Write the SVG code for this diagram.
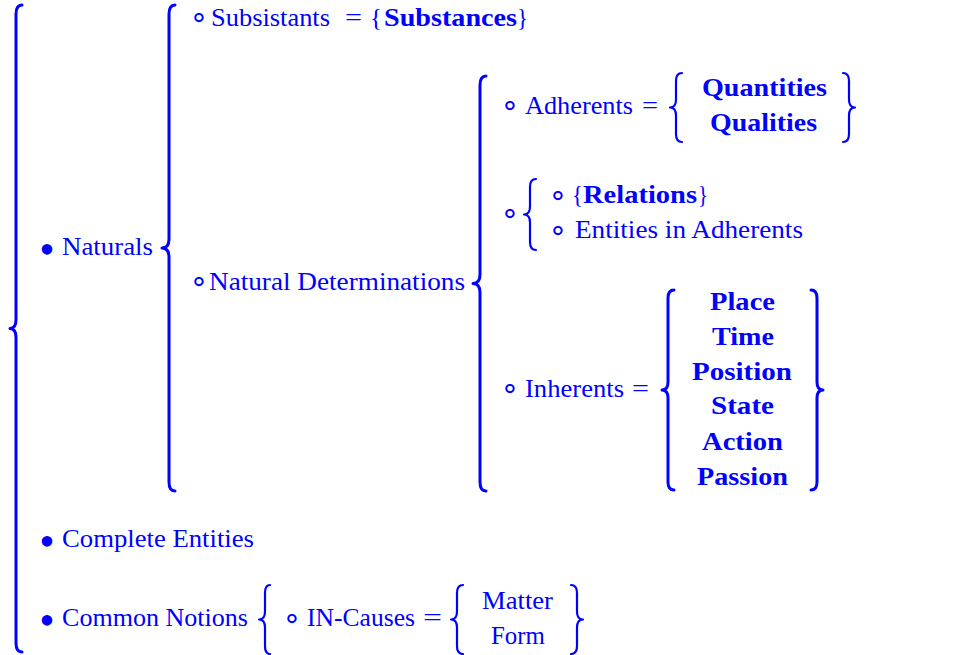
<svg xmlns="http://www.w3.org/2000/svg" width="960" height="655" viewBox="0 0 960 655">
<style>
.t{font-family:"Liberation Serif","Times New Roman",serif;font-size:24.5px;fill:#0000ff}
.b{font-weight:bold}
.bul{font-family:"Liberation Serif",serif;font-size:44px;fill:#0000ff;text-anchor:middle}
.ring{font-family:"DejaVu Sans",sans-serif;font-size:30px;fill:#0000ff;text-anchor:middle}
.br{fill:none;stroke:#0000ff;stroke-width:2.2;stroke-linecap:round;stroke-linejoin:round}
.big{stroke-width:3}
</style>
<rect width="960" height="655" fill="#ffffff"/>
<g id="connectors">
<path class="br big" d="M22,5 Q16,5 16,14 V319.5 Q16,328.5 10,328.5 Q16,328.5 16,337.5 V643 Q16,652 22,652"/>
<path class="br big" d="M175,5 Q169,5 169,14 V239 Q169,248 162,248 Q169,248 169,257 V482 Q169,491 175,491"/>
<path class="br big" d="M486,76 Q480,76 480,85 V274.5 Q480,283.5 473,283.5 Q480,283.5 480,292.5 V482 Q480,491 486,491"/>
<path class="br" d="M682,73 Q676,73 676,81 V99.5 Q676,107.5 670,107.5 Q676,107.5 676,115.5 V134 Q676,142 682,142"/>
<path class="br" d="M843,73 Q849,73 849,81 V99.5 Q849,107.5 855,107.5 Q849,107.5 849,115.5 V134 Q849,142 843,142"/>
<path class="br" d="M536,179 Q530,179 530,187 V206.5 Q530,214.5 524,214.5 Q530,214.5 530,222.5 V242 Q530,250 536,250"/>
<path class="br big" d="M674,290 Q668,290 668,298 V382 Q668,390 662,390 Q668,390 668,398 V482 Q668,490 674,490"/>
<path class="br big" d="M811,290 Q817,290 817,298 V382 Q817,390 823,390 Q817,390 817,398 V482 Q817,490 811,490"/>
<path class="br" d="M270,585 Q265,585 265,593 V611.5 Q265,619.5 259,619.5 Q265,619.5 265,627.5 V646 Q265,654 270,654"/>
<path class="br" d="M463,585 Q457,585 457,593 V611.5 Q457,619.5 451,619.5 Q457,619.5 457,627.5 V646 Q457,654 463,654"/>
<path class="br" d="M571,585 Q577,585 577,593 V611.5 Q577,619.5 583,619.5 Q577,619.5 577,627.5 V646 Q577,654 571,654"/>
</g>
<g id="naturals">
<text class="bul" x="47" y="264">•</text>
<text class="t" x="62" y="255" textLength="91" lengthAdjust="spacingAndGlyphs">Naturals</text>
</g>
<g id="subsistants">
<text class="ring" x="199" y="27">∘</text>
<text class="t" x="211" y="26" textLength="119" lengthAdjust="spacingAndGlyphs">Subsistants</text>
<text class="t" x="345" y="26" textLength="17" lengthAdjust="spacingAndGlyphs">=</text>
<text class="t" x="370" y="26" textLength="12" lengthAdjust="spacingAndGlyphs">{</text>
<text class="t b" x="384" y="26" textLength="133" lengthAdjust="spacingAndGlyphs">Substances</text>
<text class="t" x="517" y="26" textLength="11" lengthAdjust="spacingAndGlyphs">}</text>
</g>
<g id="natural-determinations">
<text class="ring" x="199" y="291">∘</text>
<text class="t" x="209" y="290" textLength="256" lengthAdjust="spacingAndGlyphs">Natural Determinations</text>
</g>
<g id="adherents">
<text class="ring" x="510" y="115">∘</text>
<text class="t" x="525" y="114" textLength="108" lengthAdjust="spacingAndGlyphs">Adherents</text>
<text class="t" x="642" y="114" textLength="16" lengthAdjust="spacingAndGlyphs">=</text>
<text class="t b" x="702" y="96" textLength="125" lengthAdjust="spacingAndGlyphs">Quantities</text>
<text class="t b" x="710" y="131" textLength="107" lengthAdjust="spacingAndGlyphs">Qualities</text>
</g>
<g id="relations-group">
<text class="ring" x="510" y="223">∘</text>
<text class="ring" x="558" y="205">∘</text>
<text class="t" x="572" y="203" textLength="11" lengthAdjust="spacingAndGlyphs">{</text>
<text class="t b" x="583" y="203" textLength="114" lengthAdjust="spacingAndGlyphs">Relations</text>
<text class="t" x="698" y="203" textLength="10" lengthAdjust="spacingAndGlyphs">}</text>
<text class="ring" x="558" y="240">∘</text>
<text class="t" x="575" y="238" textLength="228" lengthAdjust="spacingAndGlyphs">Entities in Adherents</text>
</g>
<g id="inherents">
<text class="ring" x="510" y="398">∘</text>
<text class="t" x="525" y="397" textLength="99" lengthAdjust="spacingAndGlyphs">Inherents</text>
<text class="t" x="632" y="397" textLength="17" lengthAdjust="spacingAndGlyphs">=</text>
<text class="t b" x="710" y="310" textLength="65" lengthAdjust="spacingAndGlyphs">Place</text>
<text class="t b" x="712" y="345" textLength="62" lengthAdjust="spacingAndGlyphs">Time</text>
<text class="t b" x="692" y="380" textLength="100" lengthAdjust="spacingAndGlyphs">Position</text>
<text class="t b" x="711" y="414" textLength="63" lengthAdjust="spacingAndGlyphs">State</text>
<text class="t b" x="702" y="450" textLength="81" lengthAdjust="spacingAndGlyphs">Action</text>
<text class="t b" x="697" y="485" textLength="91" lengthAdjust="spacingAndGlyphs">Passion</text>
</g>
<g id="complete-entities">
<text class="bul" x="47" y="556">•</text>
<text class="t" x="62" y="547" textLength="192" lengthAdjust="spacingAndGlyphs">Complete Entities</text>
</g>
<g id="common-notions">
<text class="bul" x="47" y="635">•</text>
<text class="t" x="62" y="626" textLength="186" lengthAdjust="spacingAndGlyphs">Common Notions</text>
</g>
<g id="in-causes">
<text class="ring" x="292" y="628">∘</text>
<text class="t" x="307" y="626" textLength="108" lengthAdjust="spacingAndGlyphs">IN-Causes</text>
<text class="t" x="423" y="626" textLength="19" lengthAdjust="spacingAndGlyphs">=</text>
<text class="t" x="482" y="609" textLength="71" lengthAdjust="spacingAndGlyphs">Matter</text>
<text class="t" x="491" y="644" textLength="54" lengthAdjust="spacingAndGlyphs">Form</text>
</g>
</svg>
